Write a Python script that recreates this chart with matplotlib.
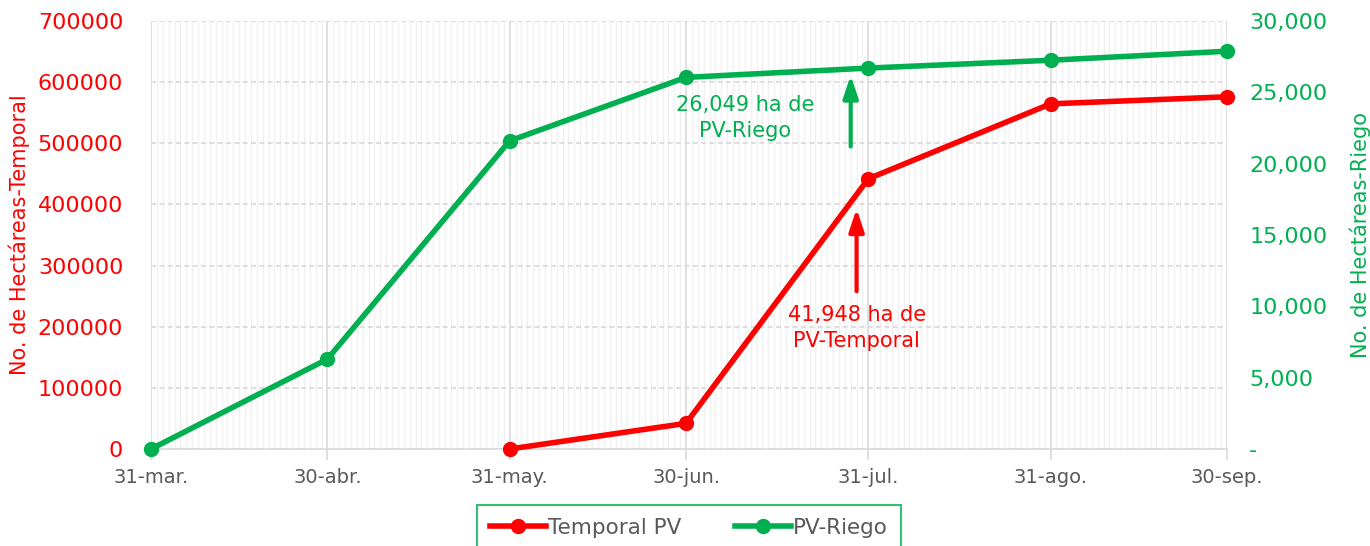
import datetime as dt

import matplotlib.pyplot as plt
import matplotlib.dates as mdates
from matplotlib.ticker import FuncFormatter, MultipleLocator

RED = '#FF0000'
GREEN = '#00B050'
GRAY = '#595959'

# data
tick_dates = ['2023-03-31', '2023-04-30', '2023-05-31', '2023-06-30',
              '2023-07-31', '2023-08-31', '2023-09-30']
tick_labels = ['31-mar.', '30-abr.', '31-may.', '30-jun.', '31-jul.', '31-ago.', '30-sep.']

temporal_dates = ['2023-05-31', '2023-06-30', '2023-07-31', '2023-08-31', '2023-09-30']
temporal_ha = [0, 41948, 442000, 564500, 576000]

riego_dates = ['2023-03-31', '2023-04-30', '2023-05-31', '2023-06-30',
               '2023-07-31', '2023-08-31', '2023-09-30']
riego_ha = [0, 6300, 21600, 26049, 26700, 27250, 27880]


def to_dates(lst):
    return [dt.datetime.strptime(s, '%Y-%m-%d') for s in lst]


plt.rcParams['font.family'] = ['DejaVu Sans']

fig = plt.figure(figsize=(13.7, 5.46), dpi=100)
ax = fig.add_axes([151 / 1370, 1 - 449 / 546, (1227 - 151) / 1370, (449 - 21) / 546])
ax2 = ax.twinx()

ax.plot(to_dates(temporal_dates), temporal_ha, color=RED, lw=4, marker='o', ms=10,
        label='Temporal PV', zorder=5, clip_on=False)
ax2.plot(to_dates(riego_dates), riego_ha, color=GREEN, lw=4, marker='o', ms=10,
         label='PV-Riego', zorder=5, clip_on=False)

ax.set_xlim(to_dates(tick_dates)[0], to_dates(tick_dates)[-1])
ax.set_ylim(0, 700000)
ax2.set_ylim(0, 30000)

ax.set_xticks(to_dates(tick_dates))
ax.set_xticklabels(tick_labels)
ax.xaxis.set_minor_locator(mdates.DayLocator())
ax.yaxis.set_major_locator(MultipleLocator(100000))
ax2.yaxis.set_major_locator(MultipleLocator(5000))
ax2.yaxis.set_major_formatter(FuncFormatter(lambda v, p: '-' if v == 0 else f'{v:,.0f}'))

# grid
ax.grid(which='minor', axis='x', color='#f0f0f0', lw=1)
ax.grid(which='major', axis='x', color='#d9d9d9', lw=1.2)
ax.grid(which='major', axis='y', color='#d9d9d9', lw=1.2, ls=(0, (3, 2)))
ax.set_axisbelow(True)

for a in (ax, ax2):
    for s in a.spines.values():
        s.set_visible(False)
ax.spines['bottom'].set_visible(True)
ax.spines['bottom'].set_color('#d9d9d9')
ax.spines['bottom'].set_linewidth(1.2)

ax.tick_params(axis='x', which='major', colors='#d9d9d9', length=8, width=1.2,
               labelcolor=GRAY, labelsize=14, pad=6)
ax.tick_params(axis='x', which='minor', length=0)
ax.tick_params(axis='y', length=0, labelcolor=RED, labelsize=16, pad=20)
ax2.tick_params(axis='y', length=0, labelcolor=GREEN, labelsize=16, pad=16)

ax.set_ylabel('No. de Hectáreas-Temporal', color=RED, fontsize=15)
ax.yaxis.set_label_coords(-121 / 1076, 0.5)
ax2.set_ylabel('No. de Hectáreas-Riego', color=GREEN, fontsize=15)
ax2.yaxis.set_label_coords(1 + 123 / 1076, 0.5)

# annotations
arrow = dict(arrowstyle='-|>,head_width=0.3,head_length=0.9', lw=3, mutation_scale=15,
             shrinkA=0, shrinkB=0)
ax2.annotate('', xy=(dt.datetime(2023, 7, 28), 26200), xytext=(dt.datetime(2023, 7, 28), 21200),
             arrowprops=dict(arrow, color=GREEN))
ax2.text(dt.datetime(2023, 7, 10), 23200, '26,049 ha de\nPV-Riego', color=GREEN,
         fontsize=15, ha='center', va='center', linespacing=1.35)
ax.annotate('', xy=(dt.datetime(2023, 7, 29), 393000), xytext=(dt.datetime(2023, 7, 29), 258000),
            arrowprops=dict(arrow, color=RED))
ax.text(dt.datetime(2023, 7, 29), 198000, '41,948 ha de\nPV-Temporal', color=RED,
        fontsize=15, ha='center', va='center', linespacing=1.35)

h1, l1 = ax.get_legend_handles_labels()
h2, l2 = ax2.get_legend_handles_labels()
leg = fig.legend(h1 + h2, l1 + l2, loc='upper center', bbox_to_anchor=(689 / 1370, 1 - 505 / 546),
                 ncol=2, frameon=True, fancybox=False, fontsize=15.5, labelcolor=GRAY,
                 handlelength=2.6, columnspacing=2.5, borderpad=0.6, handletextpad=0.1,
                 borderaxespad=0)
leg.get_frame().set_edgecolor(GREEN)
leg.get_frame().set_linewidth(1.5)

fig.savefig('out.png', dpi=100)
